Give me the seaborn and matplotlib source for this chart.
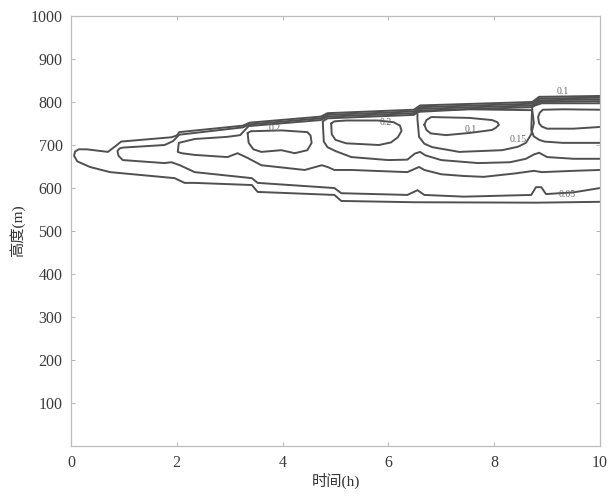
# -*- coding: utf-8 -*-
"""
Contour lines of the layer: height vs time
"""
import matplotlib
matplotlib.use("Agg")
import matplotlib.pyplot as plt
import seaborn as sns

# contour lines (time in h, height in m)
k0_t = [10, 8.8, 6.5, 5.11, 4.98, 3.53, 3.42, 2.34, 2.15, 1.96, 0.74, 0.36, 0.12, 0.06,
        0.08, 0.15, 0.3, 0.7, 0.85, 0.95, 1.9, 2.0, 2.05, 3.25, 3.38, 4.72, 4.85, 6.48,
        6.6, 8.72, 8.85, 10]
k0_h = [568, 566, 567, 570, 584, 591, 607, 612, 612, 623, 637, 649, 662, 675,
        685, 690, 690, 684, 698, 708, 718, 722, 730, 745, 752, 766, 774, 782,
        792, 800, 812, 814]

k1_t = [10, 9.5, 8.98, 8.89, 8.79, 8.7, 7.43, 6.68, 6.55, 6.36, 5.11, 4.98, 3.53, 3.42,
        2.34, 2.06, 1.9, 1.77, 0.98, 0.9, 0.88, 0.92, 0.98, 1.77, 1.93, 2.05, 3.25, 3.38,
        4.72, 4.85, 6.48, 6.6, 8.72, 8.85, 10]
k1_h = [600, 590, 586, 602, 602, 584, 580, 584, 595, 584, 588, 600, 612, 623,
        637, 653, 660, 658, 665, 675, 686, 692, 694, 700, 709, 724, 741, 748,
        762, 770, 778, 788, 796, 808, 810]

k2_t = [10, 9.5, 8.9, 8.75, 8.4, 7.8, 7.43, 7.0, 6.68, 6.58, 6.36, 5.3, 4.98, 4.85, 4.74,
        4.42, 3.6, 3.34, 3.15, 2.96, 2.34, 2.09, 2.02, 2.04, 2.34, 2.96, 3.2, 3.36, 4.72,
        4.85, 6.48, 6.6, 8.72, 8.85, 10]
k2_h = [642, 640, 637, 640, 634, 626, 628, 632, 642, 649, 637, 642, 642, 649, 653,
        642, 653, 670, 681, 672, 677, 681, 684, 705, 714, 719, 723, 744, 758,
        766, 774, 784, 792, 804, 806]

cell3_t = [3.34, 3.36, 3.45, 3.6, 3.98, 4.23, 4.47, 4.55, 4.53, 4.47, 3.98, 3.4, 3.34]
cell3_h = [728, 705, 690, 684, 688, 681, 688, 705, 722, 730, 734, 732, 728]

ring5_t = [10, 9.5, 9.0, 8.85, 8.75, 8.6, 8.3, 7.7, 7.0, 6.7, 6.6, 6.5, 6.36, 6.0, 5.3,
           5.0, 4.85, 4.78, 4.76, 4.85, 6.48, 6.6, 8.72, 8.85, 10]
ring5_h = [668, 668, 672, 682, 678, 668, 660, 658, 665, 676, 684, 680, 666, 665, 672,
           686, 695, 708, 755, 762, 770, 780, 788, 800, 802]

cell5_t = [4.92, 4.93, 5.0, 5.2, 5.82, 6.05, 6.18, 6.25, 6.22, 6.1, 5.8, 5.2, 4.98, 4.92]
cell5_h = [750, 725, 712, 704, 700, 706, 718, 733, 745, 753, 757, 757, 755, 750]

ring7_t = [6.55, 6.55, 6.58, 6.68, 6.83, 7.34, 8.15, 8.45, 8.6, 8.7, 8.75, 8.72, 7.5, 6.55]
ring7_h = [777, 760, 719, 703, 695, 684, 688, 696, 705, 725, 751, 781, 783, 777]

cell7_t = [6.68, 6.72, 6.81, 7.53, 7.96, 8.06, 8.09, 8.03, 7.96, 7.53, 7.09, 6.8, 6.72, 6.68]
cell7_h = [747, 758, 765, 763, 758, 753, 747, 740, 735, 728, 723, 727, 735, 747]

ring9_t = [10, 9.3, 8.95, 8.85, 8.75, 8.7, 8.72, 8.9, 10]
ring9_h = [705, 705, 708, 712, 720, 735, 790, 797, 797]

cell9_t = [10, 9.5, 9.0, 8.9, 8.85, 8.83, 8.86, 8.92, 9.3, 10]
cell9_h = [742, 738, 738, 743, 750, 765, 775, 782, 783, 782]

lines = [(k0_t, k0_h), (k1_t, k1_h), (k2_t, k2_h), (cell3_t, cell3_h),
         (ring5_t, ring5_h), (cell5_t, cell5_h), (ring7_t, ring7_h),
         (cell7_t, cell7_h), (ring9_t, ring9_h), (cell9_t, cell9_h)]

# contour labels
label_text = ["0.1", "0.1", "0.15", "0.05", "0.2", "0.2"]
label_t = [9.3, 7.55, 8.45, 9.38, 3.85, 5.95]
label_h = [824, 735, 712, 586, 738, 752]

x_ticks = [0, 2, 4, 6, 8, 10]
y_ticks = [100, 200, 300, 400, 500, 600, 700, 800, 900, 1000]

sns.set_theme(style="white")
plt.rcParams['font.family'] = ['Liberation Serif', 'Noto Sans CJK SC']

fig = plt.figure(figsize=(6.11, 4.98), dpi=100)
ax = fig.add_axes([0.116, 0.104, 0.866, 0.864])

for t, h in lines:
    sns.lineplot(x=t, y=h, sort=False, estimator=None, color='#505050',
                 linewidth=1.4, solid_joinstyle='round', ax=ax)

for txt, t, h in zip(label_text, label_t, label_h):
    ax.text(t, h, txt, fontsize=7, color='#666666', ha='center', va='center')

ax.set_xlim(0, 10)
ax.set_ylim(0, 1000)
ax.set_xticks(x_ticks)
ax.set_yticks(y_ticks)
ax.tick_params(direction='in', length=3, width=0.6, color='#aaaaaa',
               labelsize=11.5, labelcolor='#3a3a3a', top=True, right=True,
               bottom=True, left=True, pad=6)
for sp in ax.spines.values():
    sp.set_color('#bdbdbd')
    sp.set_linewidth(0.9)

ax.set_xlabel('时间(h)', fontsize=11, color='#333333', labelpad=2)
ax.set_ylabel('高度(m)', fontsize=11, color='#333333', labelpad=4)

fig.savefig('out.png', dpi=100)
